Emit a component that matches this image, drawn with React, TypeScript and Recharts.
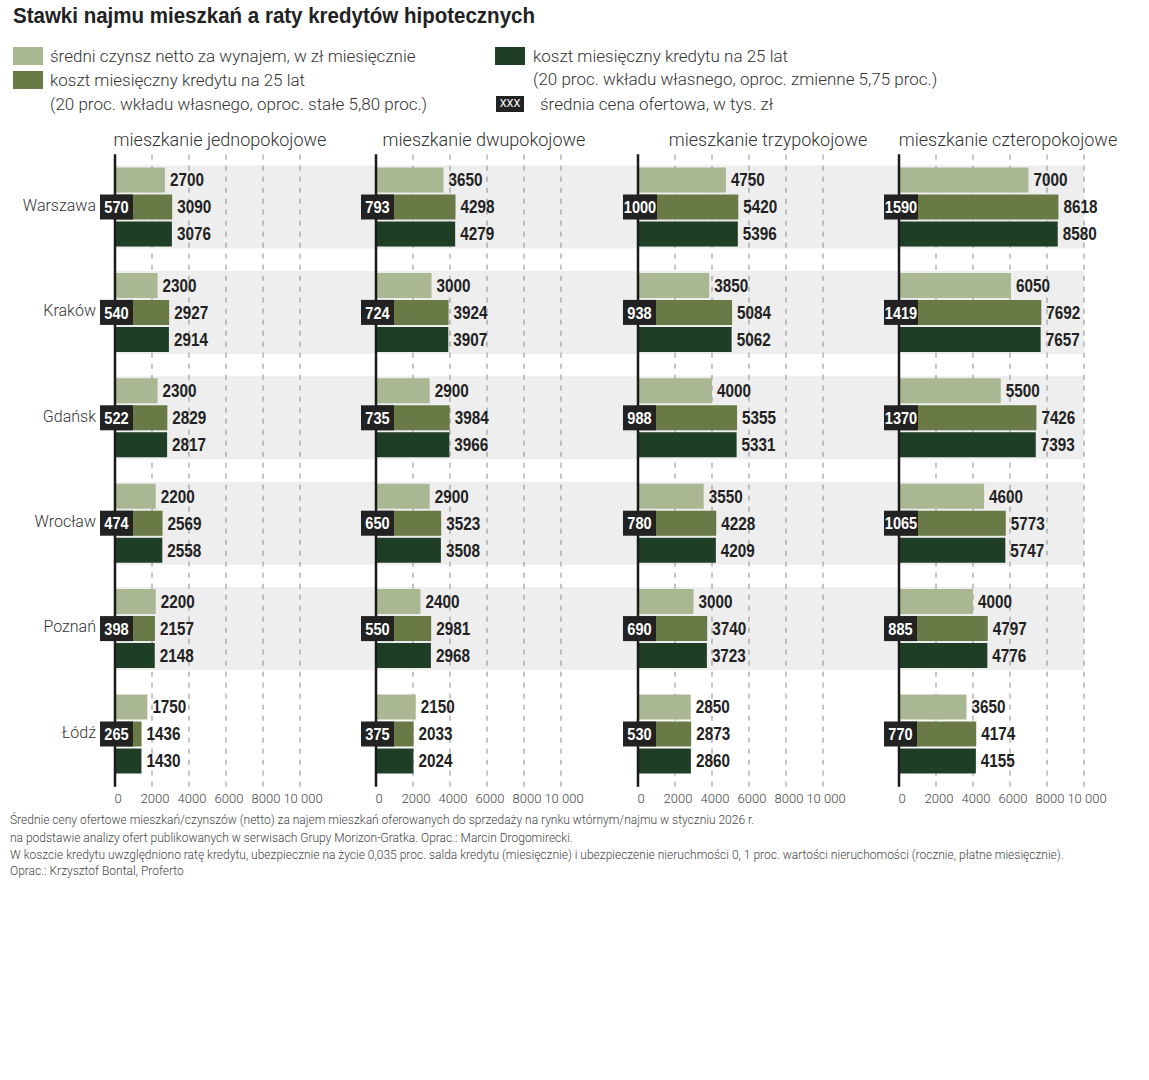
import React from "react";
import {
  BarChart,
  Bar,
  XAxis,
  YAxis,
  ReferenceArea,
  ReferenceLine,
  LabelList,
} from "recharts";

// --- data ---
const cities = ["Warszawa", "Kraków", "Gdańsk", "Wrocław", "Poznań", "Łódź"];
const xTicks = [0, 2000, 4000, 6000, 8000, 10000];
const gridTicks = [2000, 4000, 6000, 8000, 10000];

const rent1 = [2700, 2300, 2300, 2200, 2200, 1750];
const fixed1 = [3090, 2927, 2829, 2569, 2157, 1436];
const variable1 = [3076, 2914, 2817, 2558, 2148, 1430];
const price1 = [570, 540, 522, 474, 398, 265];

const rent2 = [3650, 3000, 2900, 2900, 2400, 2150];
const fixed2 = [4298, 3924, 3984, 3523, 2981, 2033];
const variable2 = [4279, 3907, 3966, 3508, 2968, 2024];
const price2 = [793, 724, 735, 650, 550, 375];

const rent3 = [4750, 3850, 4000, 3550, 3000, 2850];
const fixed3 = [5420, 5084, 5355, 4228, 3740, 2873];
const variable3 = [5396, 5062, 5331, 4209, 3723, 2860];
const price3 = [1000, 938, 988, 780, 690, 530];

const rent4 = [7000, 6050, 5500, 4600, 4000, 3650];
const fixed4 = [8618, 7692, 7426, 5773, 4797, 4174];
const variable4 = [8580, 7657, 7393, 5747, 4776, 4155];
const price4 = [1590, 1419, 1370, 1065, 885, 770];

const panels = [
  { title: "mieszkanie jednopokojowe", rent: rent1, fixed: fixed1, variable: variable1, price: price1 },
  { title: "mieszkanie dwupokojowe", rent: rent2, fixed: fixed2, variable: variable2, price: price2 },
  { title: "mieszkanie trzypokojowe", rent: rent3, fixed: fixed3, variable: variable3, price: price3 },
  { title: "mieszkanie czteropokojowe", rent: rent4, fixed: fixed4, variable: variable4, price: price4 },
];

const footnotes = [
  "Średnie ceny ofertowe mieszkań/czynszów (netto) za najem mieszkań oferowanych do sprzedaży na rynku wtórnym/najmu w styczniu 2026  r.",
  "na podstawie analizy ofert publikowanych w serwisach Grupy Morizon-Gratka. Oprac.: Marcin Drogomirecki.",
  "W koszcie kredytu uwzględniono ratę kredytu, ubezpiecznie na życie 0,035 proc. salda kredytu (miesięcznie) i ubezpieczenie nieruchmości 0, 1 proc. wartości nieruchomości (rocznie, płatne miesięcznie).",
  "Oprac.: Krzysztof Bontal, Proferto",
];

// --- styling / layout ---
const LIGHT = "Roboto, 'Open Sans', sans-serif";
const BOLD = "'Liberation Sans', Arial, sans-serif";
const C_RENT = "#a9b793";
const C_FIXED = "#697a47";
const C_VAR = "#1e3e25";
const C_BAND = "#eeeeee";
const C_BADGE = "#222222";

const PX_PER_UNIT = 0.0185;
const axisX = [115, 376, 638, 899];
const titleX = [220, 484, 768, 1008];

const fmtTick = (v: number) => (v >= 10000 ? "10 000" : String(v));

const XTick = (props: any) => {
  const { x, y, payload } = props;
  return (
    <text x={x + 3} y={y + 7} dy="0.71em" textAnchor="middle" fontSize={13}
      fill="#444" fontFamily={LIGHT} fontWeight={300}>
      {fmtTick(payload.value)}
    </text>
  );
};

const CityTick = (props: any) => {
  const { x, y, payload } = props;
  return (
    <text x={x - 19} y={y - 2} dy="0.36em" textAnchor="end" fontSize={16}
      fill="#333" fontFamily={LIGHT} fontWeight={300}>
      {payload.value}
    </text>
  );
};

const BandShape = (props: any) => {
  const { x, y, width, height } = props;
  const inset = height * 0.106;
  return <rect x={x} y={y + inset} width={width} height={height - 2 * inset} fill={C_BAND} />;
};

const boxOf = (props: any) =>
  props.viewBox && props.viewBox.height != null ? props.viewBox : props;

// bold, condensed-looking number to the right of a bar
const ValueLabel = (props: any) => {
  const vb = boxOf(props);
  const s = String(props.value);
  const x = Number(vb.x) + Number(vb.width) + 5;
  const y = Number(vb.y) + Number(vb.height) / 2;
  return (
    <text x={x} y={y} dy="0.36em" textAnchor="start" fontSize={18} fontWeight={700}
      fontFamily={BOLD} fill="#222" textLength={8.5 * s.length} lengthAdjust="spacingAndGlyphs">
      {s}
    </text>
  );
};

const PriceBadge = (props: any) => {
  const vb = boxOf(props);
  const x = Number(vb.x);
  const y = Number(vb.y);
  const h = Number(vb.height);
  const s = String(props.value);
  const w = s.length > 3 ? 34 : 33;
  const bx = x - 15;
  return (
    <g>
      <rect x={bx} y={y} width={w} height={h} fill={C_BADGE} />
      <text x={bx + w / 2} y={y + h / 2} dy="0.36em" textAnchor="middle" fill="#fff"
        fontSize={17} fontFamily={BOLD} fontWeight={700}
        textLength={8.1 * s.length} lengthAdjust="spacingAndGlyphs">
        {s}
      </text>
    </g>
  );
};

function Panel({ idx }: { idx: number }) {
  const p = panels[idx];
  const first = idx === 0;
  const last = idx === panels.length - 1;
  const yAxisW = first ? 115 : 20;
  const plotW = last ? 250 : 262;
  const maxX = plotW / PX_PER_UNIT;
  const data = cities.map((city, i) => ({
    city,
    rent: p.rent[i],
    fixed: p.fixed[i],
    variable: p.variable[i],
    price: p.price[i],
  }));

  return (
    <div style={{ position: "absolute", left: axisX[idx] - yAxisW, top: 0 }}>
      <BarChart
        layout="vertical"
        width={yAxisW + plotW}
        height={820}
        data={data}
        margin={{ top: 154.3, right: 0, bottom: 3.3, left: 0 }}
        barCategoryGap={13.2}
        barGap={2}
      >
        <XAxis type="number" domain={[0, maxX]} ticks={xTicks} interval={0}
          axisLine={false} tickLine={false} tickSize={0} tickMargin={0}
          tick={<XTick />} allowDataOverflow />
        <YAxis type="category" dataKey="city" width={yAxisW} interval={0}
          axisLine={{ stroke: "#1a1a1a", strokeWidth: 2.5 }} tickLine={false}
          tickSize={0} tickMargin={0} tick={first ? <CityTick /> : false} />
        {cities.map((c) =>
          last ? (
            <ReferenceArea key={c} y1={c} y2={c} x1={0} x2={10000} shape={BandShape} zIndex={-150} />
          ) : (
            <ReferenceArea key={c} y1={c} y2={c} shape={BandShape} zIndex={-150} />
          )
        )}
        {gridTicks.map((v) => (
          <ReferenceLine key={v} x={v} stroke="#8a8a8a" strokeWidth={1}
            strokeDasharray="5 6" zIndex={-120} />
        ))}
        <Bar dataKey="rent" fill={C_RENT} isAnimationActive={false}>
          <LabelList dataKey="rent" content={<ValueLabel />} />
        </Bar>
        <Bar dataKey="fixed" fill={C_FIXED} isAnimationActive={false}>
          <LabelList dataKey="fixed" content={<ValueLabel />} />
          <LabelList dataKey="price" content={<PriceBadge />} />
        </Bar>
        <Bar dataKey="variable" fill={C_VAR} isAnimationActive={false}>
          <LabelList dataKey="variable" content={<ValueLabel />} />
        </Bar>
      </BarChart>
    </div>
  );
}

const legendText: React.CSSProperties = {
  position: "absolute",
  fontFamily: LIGHT,
  fontWeight: 300,
  fontSize: 17,
  color: "#333",
  whiteSpace: "nowrap",
  lineHeight: "20px",
};

const swatch = (color: string): React.CSSProperties => ({
  position: "absolute",
  width: 30,
  height: 18,
  background: color,
});

export default function App() {
  return (
    <div style={{ position: "absolute", left: 0, top: 0, width: 1149, height: 1080, background: "#fff", overflow: "hidden" }}>
      <svg width={600} height={32} style={{ position: "absolute", left: 0, top: 0 }}>
        <text x={13} y={23} fontFamily={BOLD} fontWeight={700} fontSize={22} fill="#222"
          textLength={522} lengthAdjust="spacingAndGlyphs">
          Stawki najmu mieszkań a raty kredytów hipotecznych
        </text>
      </svg>

      {/* legend */}
      <div style={{ ...swatch(C_RENT), left: 13, top: 47 }} />
      <div style={{ ...legendText, left: 50, top: 46 }}>średni czynsz netto za wynajem, w zł miesięcznie</div>
      <div style={{ ...swatch(C_FIXED), left: 13, top: 71 }} />
      <div style={{ ...legendText, left: 50, top: 70 }}>koszt miesięczny kredytu na 25 lat</div>
      <div style={{ ...legendText, left: 50, top: 94 }}>(20 proc. wkładu własnego, oproc. stałe 5,80 proc.)</div>

      <div style={{ ...swatch(C_VAR), left: 495, top: 47 }} />
      <div style={{ ...legendText, left: 533, top: 46 }}>koszt miesięczny kredytu na 25 lat</div>
      <div style={{ ...legendText, left: 533, top: 69 }}>(20 proc. wkładu własnego, oproc. zmienne 5,75 proc.)</div>
      <div style={{ position: "absolute", left: 496, top: 96, width: 28, height: 16, background: C_BADGE, color: "#fff", fontFamily: LIGHT, fontSize: 11, lineHeight: "16px", textAlign: "center" }}>XXX</div>
      <div style={{ ...legendText, left: 540, top: 94 }}>średnia cena ofertowa, w tys. zł</div>

      {/* panel titles */}
      {panels.map((p, i) => (
        <div key={p.title} style={{ ...legendText, fontSize: 18, left: titleX[i], top: 130, transform: "translateX(-50%)" }}>
          {p.title}
        </div>
      ))}

      {panels.map((p, i) => (
        <Panel key={p.title} idx={i} />
      ))}

      {/* footnotes */}
      {footnotes.map((t, i) => (
        <div key={i} style={{ position: "absolute", left: 10, top: [813, 831, 848, 864][i], fontFamily: LIGHT, fontWeight: 300, fontSize: 12, color: "#444", whiteSpace: "nowrap", lineHeight: "14px" }}>
          {t}
        </div>
      ))}
    </div>
  );
}
